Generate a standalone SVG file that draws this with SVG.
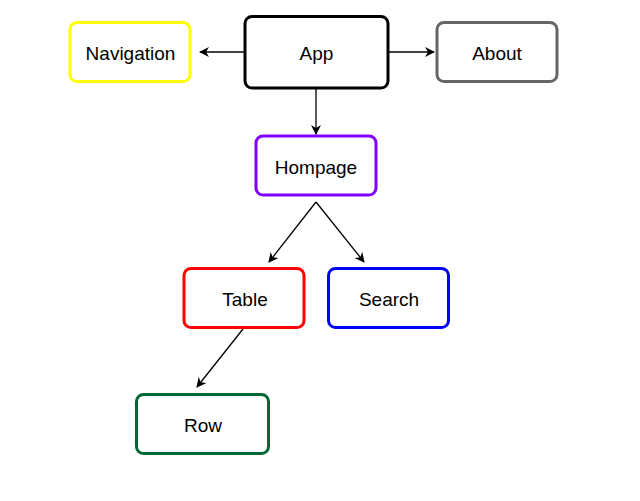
<svg xmlns="http://www.w3.org/2000/svg" width="640" height="501" viewBox="0 0 640 501">
<style>
.box{fill:#fff;stroke-width:3}
.lbl{font-family:"Liberation Sans",Arial,sans-serif;font-size:19px;fill:#000;text-anchor:middle}
.edge{stroke:#000;stroke-width:1.3;fill:none;marker-end:url(#arr)}
</style>
<defs>
<marker id="arr" viewBox="0 0 10 10" refX="9" refY="5" markerWidth="10" markerHeight="10" markerUnits="userSpaceOnUse" orient="auto">
<path d="M0,0 L10,5 L0,10 L3,5 Z" fill="#000"/>
</marker>
</defs>
<rect width="640" height="501" fill="#fff"/>
<g id="connectors">
<line class="edge" x1="244" y1="52" x2="200" y2="52"/>
<line class="edge" x1="389" y1="52" x2="434" y2="52"/>
<line class="edge" x1="316" y1="89" x2="316" y2="134"/>
<line class="edge" x1="316" y1="202" x2="269" y2="262"/>
<line class="edge" x1="316" y1="202" x2="364" y2="262"/>
<line class="edge" x1="243" y1="329" x2="197" y2="387"/>
</g>
<g id="app"><rect class="box" x="245" y="16.5" width="143" height="71.5" rx="7" stroke="#000"/><text class="lbl" x="316.5" y="60">App</text></g>
<g id="navigation"><rect class="box" x="70" y="22.5" width="120" height="59" rx="7" stroke="#ffff00"/><text class="lbl" x="130.5" y="60">Navigation</text></g>
<g id="about"><rect class="box" x="437" y="22.5" width="120" height="59" rx="7" stroke="#666666"/><text class="lbl" x="497" y="60">About</text></g>
<g id="hompage"><rect class="box" x="256" y="136" width="120" height="59" rx="7" stroke="#7f00ff"/><text class="lbl" x="316" y="174">Hompage</text></g>
<g id="table"><rect class="box" x="184" y="268.5" width="120" height="59" rx="7" stroke="#ff0000"/><text class="lbl" x="245" y="306">Table</text></g>
<g id="search"><rect class="box" x="328.5" y="268.5" width="120" height="59" rx="7" stroke="#0000ff"/><text class="lbl" x="389" y="306">Search</text></g>
<g id="row"><rect class="box" x="136.5" y="394.5" width="132" height="59" rx="7" stroke="#006633"/><text class="lbl" x="203" y="432">Row</text></g>
</svg>
